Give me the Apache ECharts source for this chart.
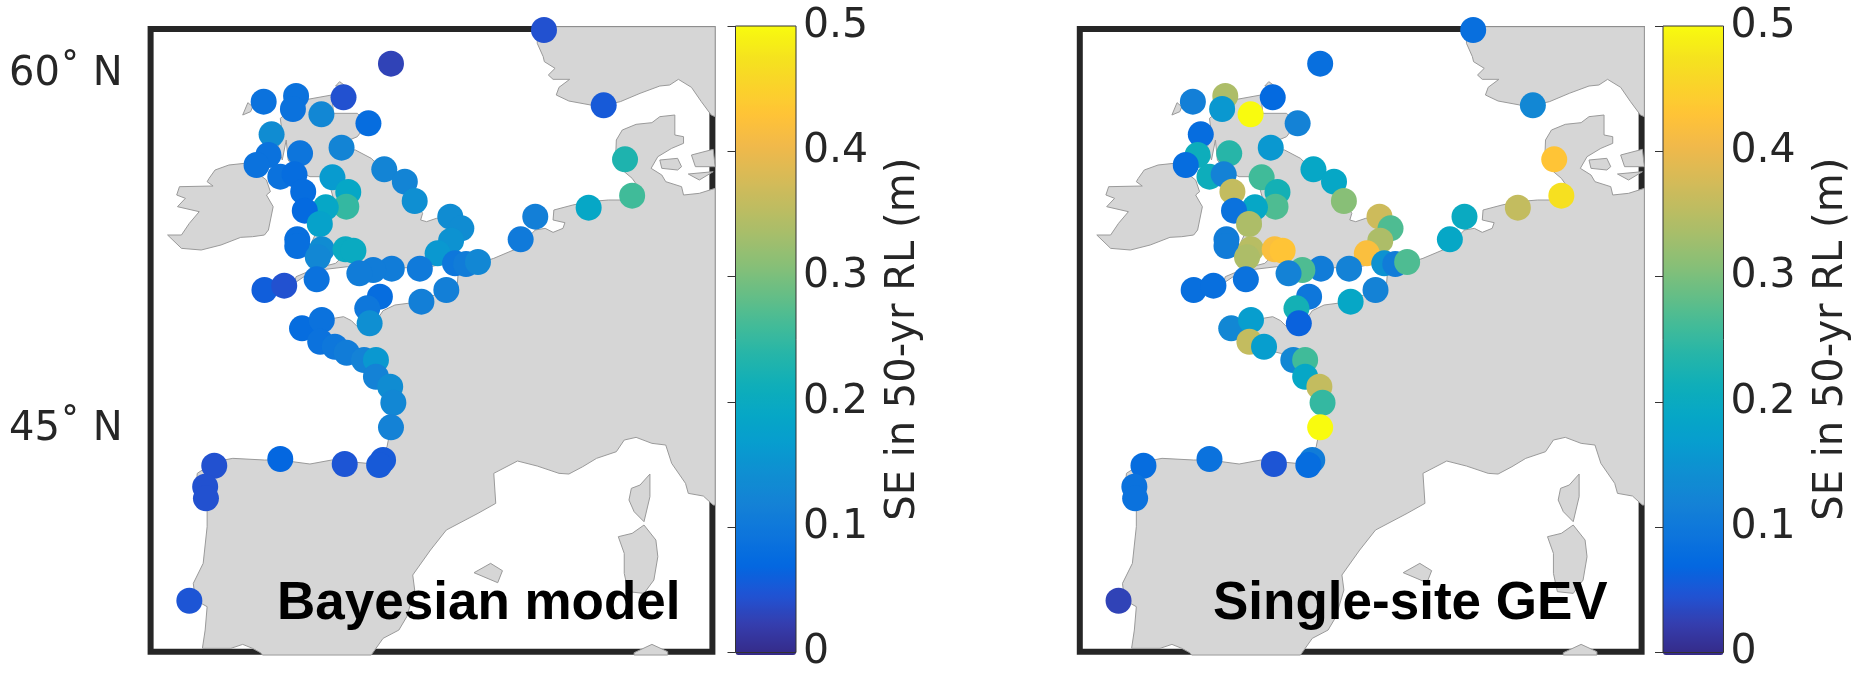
<!DOCTYPE html>
<html><head><meta charset="utf-8">
<style>html,body{margin:0;padding:0;background:#fff}#c{width:1857px;height:673px}</style>
<script src="https://cdn.jsdelivr.net/npm/echarts@6/dist/echarts.min.js"></script>
</head><body><div id="c"></div>
<script>
// Site positions and land outlines are in map units.
const siteX=[1047,660,1198,338,420,412,484,540,603,358,535,350,430,320,380,416,643,512,695,552,438,720,547,495,442,480,810,838,1025,1160,1252,1270,988,812,423,423,485,545,565,778,475,822,850,880,733,662,615,580,472,340,390,800,737,632,600,606,435,485,481,518,548,592,622,622,658,666,660,640,630,543,380,213,190,192,150];
const siteY=[90,191,316,305,288,327,343,292,370,403,443,465,460,495,530,523,508,532,545,576,575,603,620,622,632,672,650,685,650,623,478,587,718,722,718,738,748,748,752,760,772,790,792,786,806,806,810,820,838,870,857,870,905,890,925,970,985,960,1025,1040,1058,1080,1080,1130,1160,1208,1282,1380,1395,1392,1377,1397,1460,1495,1802];
const seBayes=[.045,.03,.055,.09,.09,.09,.13,.045,.08,.14,.125,.09,.095,.09,.09,.08,.125,.165,.125,.19,.08,.145,.25,.19,.075,.18,.14,.14,.115,.19,.23,.26,.105,.15,.085,.085,.14,.2,.2,.16,.13,.1,.11,.13,.105,.11,.11,.11,.09,.06,.045,.115,.115,.08,.1,.145,.08,.09,.09,.1,.11,.12,.16,.12,.14,.13,.12,.055,.055,.05,.07,.045,.045,.045,.05];
const seGev=[.085,.085,.13,.115,.34,.16,.5,.075,.12,.08,.16,.21,.24,.08,.21,.12,.19,.26,.19,.22,.36,.31,.27,.19,.09,.34,.37,.27,.2,.36,.43,.47,.19,.34,.11,.11,.35,.42,.43,.42,.34,.15,.11,.27,.12,.11,.27,.12,.09,.085,.085,.12,.19,.1,.22,.065,.13,.17,.36,.17,null,.13,.26,.19,.36,.25,.5,.11,.08,.05,.09,.08,.09,.09,.03];
const landMain=[[1378,345],[1340,350],[1320,368],[1280,373],[1245,390],[1230,420],[1228,480],[1250,515],[1270,535],[1285,560],[1270,600],[1210,600],[1160,605],[1120,615],[1072,630],[1070,660],[1100,668],[1095,685],[1070,697],[1050,685],[1025,690],[1000,720],[970,750],[920,775],[880,790],[830,820],[828,850],[800,870],[770,885],[735,905],[670,915],[640,932],[610,985],[575,980],[560,962],[540,950],[515,955],[490,958],[430,975],[425,1000],[470,1020],[510,1045],[560,1060],[600,1090],[620,1130],[640,1170],[665,1210],[660,1280],[650,1340],[625,1385],[600,1390],[510,1380],[455,1392],[380,1380],[340,1380],[260,1375],[215,1385],[170,1420],[165,1490],[195,1525],[195,1580],[185,1690],[160,1750],[165,1800],[195,1820],[190,1890],[183,1945],[255,1945],[285,1933],[310,1945],[330,1958],[335,1965],[610,1965],[640,1915],[680,1890],[700,1850],[720,1770],[715,1725],[760,1650],[800,1590],[880,1540],[925,1510],[920,1420],[980,1383],[1030,1398],[1085,1420],[1110,1422],[1145,1400],[1180,1375],[1230,1355],[1250,1320],[1280,1312],[1320,1330],[1355,1335],[1370,1390],[1405,1450],[1412,1480],[1450,1488],[1475,1515],[1480,1515],[1480,565],[1440,580],[1400,585],[1395,560],[1355,545],[1345,525],[1318,505],[1335,470],[1370,445],[1400,430],[1400,410],[1378,405]];
const landNorway=[[1030,80],[1030,130],[1045,170],[1048,185],[1075,205],[1058,225],[1070,238],[1112,238],[1085,262],[1078,285],[1110,303],[1165,315],[1198,316],[1240,305],[1290,280],[1340,258],[1365,255],[1387,238],[1420,262],[1445,305],[1470,345],[1480,350],[1480,80]];
const landIreland=[[200,535],[215,510],[250,495],[290,490],[345,540],[355,575],[345,585],[362,620],[350,690],[340,705],[310,710],[280,712],[230,735],[180,750],[130,745],[95,705],[130,705],[150,670],[175,635],[120,620],[140,595],[118,585],[125,560],[210,558],[195,545]];
const landBritain=[[380,355],[440,300],[510,285],[515,340],[575,340],[600,370],[575,410],[545,425],[510,445],[570,450],[610,475],[640,510],[695,545],[720,600],[740,640],[735,660],[750,665],[775,655],[810,650],[840,685],[810,720],[790,740],[775,760],[800,790],[760,800],[660,805],[590,810],[550,800],[480,810],[440,830],[415,850],[420,830],[470,805],[520,790],[545,760],[480,740],[460,725],[470,700],[510,680],[510,640],[470,625],[520,620],[505,555],[480,530],[455,530],[420,510],[400,480],[395,420],[385,480],[375,440],[385,400]];
const landLewis=[[285,345],[298,308],[310,320],[305,335]];
const landOrkney=[[520,258],[530,245],[545,258]];
const landFunen=[[1340,480],[1385,475],[1395,500],[1385,510],[1345,505]];
const landZealand=[[1420,465],[1475,448],[1480,500],[1430,500]];
const landLolland=[[1412,522],[1475,515],[1440,540]];
const landCorsica=[[1315,1422],[1315,1490],[1300,1565],[1275,1535],[1262,1500],[1268,1465],[1290,1455]];
const landSardinia=[[1300,1575],[1330,1620],[1335,1670],[1325,1740],[1300,1780],[1260,1775],[1250,1720],[1250,1660],[1235,1610],[1270,1600]];
const landMallorca=[[870,1718],[912,1690],[942,1712],[930,1748]];
const landAfrica=[[1275,1958],[1320,1933],[1360,1955],[1360,1965],[1275,1965]];
const latTicks=[224,1289];
const latLabels=['60˚ N','45˚ N'];
const barTitle='SE in 50-yr RL (m)';
const panelTitles=['Bayesian model','Single-site GEV'];
const parula=[[.2081,.1663,.5292],[.2081,.2386,.6771],[.1253,.3242,.8303],[.0060,.4086,.8828],[.0498,.4586,.8641],[.0779,.5040,.8384],[.0641,.5570,.8240],[.0265,.6137,.8135],[.0228,.6535,.7768],[.0590,.6838,.7254],[.1453,.7098,.6646],[.2586,.7317,.5954],[.3953,.7459,.5244],[.5300,.7491,.4661],[.6473,.7456,.4188],[.7525,.7384,.3768],[.8507,.7299,.3360],[.9450,.7261,.2886],[.9990,.7653,.2164],[.9789,.8271,.1633],[.9589,.8949,.1132],[.9763,.9831,.0538]]
  .map(c=>'rgb('+c.map(v=>Math.round(v*255)).join(',')+')');

const lands=[landMain,landNorway,landIreland,landBritain,landLewis,landOrkney,landFunen,landZealand,landLolland,landCorsica,landSardinia,landMallorca,landAfrica];
const FONT='DejaVu Sans', INK='#262626';
const PW=561.8, PH=622.7, PT=29, LEFTS=[150.6,1079.8], BARL=[735.5,1663], BARW=60.5, BART=26, BARH=629;
const grids=[],xAxes=[],yAxes=[],series=[],vms=[],titles=[];
[seBayes,seGev].forEach((vals,i)=>{
  grids.push({left:LEFTS[i],top:PT,width:PW,height:PH,show:true,borderWidth:6,borderColor:INK,backgroundColor:'transparent',z:0});
  xAxes.push({gridIndex:i,type:'value',min:52,max:1473,show:false});
  yAxes.push({gridIndex:i,type:'value',min:87,max:1955,inverse:true,show:i===0,splitLine:{show:false},axisLine:{show:false},axisTick:{show:false},
    axisLabel:{show:true,customValues:latTicks,formatter:v=>latLabels[latTicks.indexOf(v)],fontFamily:FONT,fontSize:40,color:INK,margin:28}});
  series.push({type:'custom',xAxisIndex:i,yAxisIndex:i,silent:true,z:2,data:lands.map((_,k)=>[k]),
    renderItem:(p,api)=>({type:'polygon',shape:{points:lands[api.value(0)].map(q=>api.coord(q))},style:{fill:'#d6d6d6',stroke:'#9a9a9a',lineWidth:1}})});
  const pts=[];
  siteX.forEach((x,k)=>{ if(vals[k]!==null) pts.push([x,siteY[k],vals[k]]); });
  series.push({type:'scatter',xAxisIndex:i,yAxisIndex:i,z:3,symbol:'circle',symbolSize:26,clip:false,silent:true,itemStyle:{opacity:1},data:pts});
  vms.push({type:'continuous',seriesIndex:2*i+1,dimension:2,min:0,max:.5,left:BARL[i],top:BART,itemWidth:BARW,itemHeight:BARH,padding:0,calculable:false,showLabel:false,text:null,hoverLink:false,inRange:{color:parula},z:4});
  titles.push({text:panelTitles[i],left:i?1213:277,top:578,padding:0,textStyle:{fontFamily:'Liberation Sans',fontWeight:'bold',fontSize:53,color:'#000'},z:8});
});
[0,1].forEach(i=>{
  const g=grids.length;
  grids.push({left:BARL[i],top:BART,width:BARW,height:BARH,show:true,borderWidth:1,borderColor:'#333',backgroundColor:'transparent',z:9});
  xAxes.push({gridIndex:g,type:'value',min:0,max:1,show:false});
  yAxes.push({gridIndex:g,type:'value',min:0,max:.5,interval:.1,position:'right',z:10,splitLine:{show:false},
    axisLine:{show:false},axisTick:{show:true,inside:true,length:8,lineStyle:{color:'#333',width:1}},
    axisLabel:{fontFamily:FONT,fontSize:41,color:INK,margin:7,formatter:v=>String(+v.toFixed(1))},
    name:barTitle,nameLocation:'middle',nameRotate:90,nameGap:88,nameTextStyle:{fontFamily:FONT,fontSize:40,color:INK}});
});
const chart=echarts.init(document.getElementById('c'),null,{renderer:'canvas'});
chart.setOption({animation:false,backgroundColor:'#fff',title:titles,grid:grids,xAxis:xAxes,yAxis:yAxes,visualMap:vms,series:series});
</script></body></html>
